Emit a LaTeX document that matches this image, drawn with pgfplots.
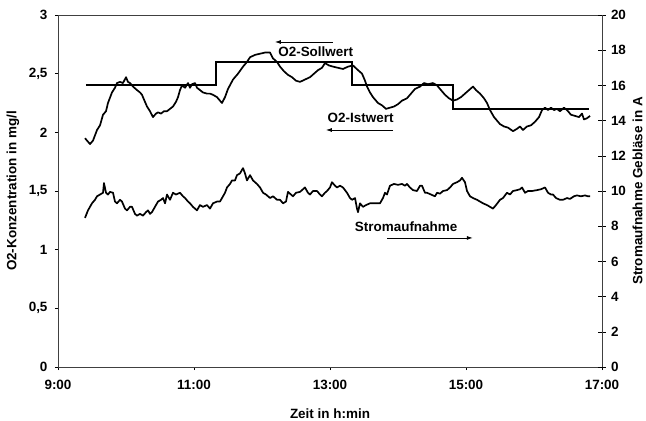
\documentclass[border=0pt]{standalone}
\usepackage{fontspec}
\setmainfont{Liberation Sans}
\usepackage{pgfplots}
\pgfplotsset{compat=1.18}
\usetikzlibrary{arrows.meta}
\newcommand{\fs}{\fontsize{13.5}{16}\selectfont\bfseries}
\begin{document}
\begin{tikzpicture}
\begin{axis}[
  name=ax,
  at={(0,0)}, anchor=south west,
  scale only axis, width=544bp, height=352bp,
  xmin=9, xmax=17, ymin=0, ymax=3,
  xtick={9,11,13,15,17},
  xticklabels={9:00,11:00,13:00,15:00,17:00},
  ytick={0,0.5,1,1.5,2,2.5,3},
  yticklabels={0,{0,5},1,{1,5},2,{2,5},3},
  xtick pos=lower, ytick pos=left,
  tick align=outside,
  major tick length=3bp,
  tick style={black, line width=0.6pt},
  axis line style={black!75, line width=0.8pt},
  ticklabel style={font=\fs},
  xticklabel style={yshift=-7bp},
  yticklabel style={xshift=-4bp},
  xlabel={Zeit in h:min},
  label style={font=\fs},
  xlabel style={at={(axis description cs:0.5,0)}, anchor=center, yshift=-47bp},
  clip=false,
]
% Sollwert
\addplot[black, line width=1.9pt, line join=miter] coordinates {
(9.41,2.40) (11.32,2.40) (11.32,2.60) (13.32,2.60) (13.32,2.40) (14.81,2.40) (14.81,2.20) (16.81,2.20)
};
% Istwert
\addplot[black, line width=1.7pt, line join=round] coordinates {
(9.397,1.95) (9.441,1.92) (9.471,1.90) (9.515,1.93) (9.574,2.02) (9.618,2.06) (9.662,2.15) (9.706,2.18)
(9.735,2.25) (9.794,2.34) (9.838,2.38) (9.868,2.42) (9.912,2.43) (9.956,2.42) (10.000,2.47) (10.029,2.43)
(10.059,2.42) (10.103,2.39) (10.162,2.36) (10.206,2.34) (10.235,2.32) (10.279,2.26) (10.309,2.22) (10.353,2.18)
(10.397,2.13) (10.441,2.16) (10.471,2.17) (10.515,2.16) (10.559,2.18) (10.603,2.18) (10.647,2.20) (10.691,2.22)
(10.735,2.26) (10.765,2.30) (10.794,2.36) (10.824,2.40) (10.868,2.38) (10.912,2.42) (10.941,2.38) (10.971,2.41)
(11.015,2.42) (11.044,2.38) (11.088,2.36) (11.132,2.34) (11.191,2.33) (11.235,2.33) (11.279,2.32) (11.338,2.30)
(11.382,2.27) (11.412,2.25) (11.456,2.30) (11.500,2.37) (11.574,2.45) (11.647,2.50) (11.721,2.56) (11.779,2.60)
(11.824,2.64) (11.897,2.66) (11.971,2.67) (12.044,2.68) (12.118,2.68) (12.162,2.63) (12.221,2.60) (12.265,2.56)
(12.324,2.52) (12.382,2.49) (12.441,2.47) (12.500,2.44) (12.559,2.43) (12.632,2.45) (12.706,2.47) (12.765,2.50)
(12.824,2.53) (12.882,2.55) (12.926,2.59) (12.985,2.57) (13.044,2.56) (13.118,2.55) (13.191,2.54) (13.265,2.56)
(13.338,2.57) (13.412,2.53) (13.471,2.50) (13.515,2.44) (13.544,2.39) (13.588,2.34) (13.632,2.30) (13.706,2.25)
(13.765,2.23) (13.824,2.20) (13.882,2.21) (13.941,2.22) (14.000,2.24) (14.059,2.27) (14.132,2.29) (14.191,2.33)
(14.250,2.37) (14.324,2.39) (14.382,2.42) (14.441,2.41) (14.515,2.42) (14.574,2.40) (14.632,2.36) (14.691,2.32)
(14.750,2.29) (14.809,2.27) (14.868,2.28) (14.926,2.30) (14.985,2.33) (15.044,2.36) (15.103,2.39) (15.147,2.36)
(15.206,2.33) (15.265,2.29) (15.309,2.25) (15.353,2.19) (15.412,2.13) (15.456,2.10) (15.500,2.07) (15.559,2.05)
(15.618,2.04) (15.691,2.01) (15.750,2.03) (15.794,2.05) (15.838,2.02) (15.897,2.05) (15.956,2.06) (16.015,2.09)
(16.074,2.13) (16.118,2.19) (16.162,2.21) (16.206,2.19) (16.250,2.21) (16.294,2.19) (16.338,2.20) (16.382,2.18)
(16.441,2.21) (16.485,2.19) (16.544,2.15) (16.603,2.14) (16.662,2.13) (16.706,2.16) (16.735,2.11) (16.779,2.12)
(16.824,2.14)
};
% annotations
\draw[black, line width=0.8pt, -{Latex[length=6bp,width=4bp]}] (axis cs:13.04,2.77) -- (axis cs:12.19,2.77);
\node[font=\fs] at (axis cs:12.79,2.685) {O2-Sollwert};
\node[font=\fs] at (axis cs:13.45,2.12) {O2-Istwert};
\draw[black, line width=0.8pt, -{Latex[length=6bp,width=4bp]}] (axis cs:13.93,2.02) -- (axis cs:12.94,2.02);
\node[font=\fs] at (axis cs:14.12,1.193) {Stromaufnahme};
\draw[black, line width=0.8pt, -{Latex[length=6bp,width=4bp]}] (axis cs:13.84,1.10) -- (axis cs:15.10,1.10);
% axis titles
\node[font=\fs, rotate=90, anchor=center] at (axis description cs:-0.0827,0.5) {O2-Konzentration in mg/l};
\node[font=\fs, rotate=90, anchor=center] at (axis description cs:1.0655,0.5) {Stromaufnahme Gebläse in A};
\end{axis}
\begin{axis}[
  at={(0,0)}, anchor=south west,
  scale only axis, width=544bp, height=352bp,
  xmin=9, xmax=17, ymin=0, ymax=20,
  axis x line=none, axis y line*=right,
  ytick={0,2,...,20},
  tick align=center,
  major tick length=7bp,
  tick style={black, line width=0.6pt},
  axis line style={black!75, line width=0.8pt, -},
  ticklabel style={font=\fs},
  /pgf/number format/assume math mode=true,
  yticklabel style={xshift=2bp},
]
\addplot[black, line width=1.7pt, line join=round] coordinates {
(9.397,8.47) (9.441,8.9) (9.500,9.3) (9.544,9.5) (9.574,9.7) (9.618,9.8) (9.662,9.9) (9.676,10.45)
(9.706,9.9) (9.735,9.8) (9.765,9.95) (9.809,9.9) (9.838,9.4) (9.868,9.3) (9.912,9.5) (9.941,9.4)
(9.985,9.0) (10.015,8.9) (10.059,9.1) (10.088,9.1) (10.132,8.7) (10.162,8.6) (10.206,8.7) (10.250,8.6)
(10.294,8.8) (10.324,8.9) (10.353,8.7) (10.382,8.8) (10.426,9.1) (10.471,9.4) (10.515,9.5) (10.544,9.6)
(10.574,9.3) (10.603,9.8) (10.647,9.5) (10.691,9.9) (10.735,9.8) (10.794,9.9) (10.838,9.7) (10.868,9.6)
(10.912,9.4) (10.941,9.3) (10.985,9.1) (11.044,8.9) (11.088,9.2) (11.132,9.1) (11.191,9.2) (11.235,9.0)
(11.279,9.3) (11.338,9.4) (11.382,9.4) (11.412,9.6) (11.456,9.9) (11.485,10.2) (11.529,10.4) (11.559,10.6)
(11.603,10.6) (11.632,10.9) (11.676,11.0) (11.721,11.3) (11.750,11.0) (11.779,10.6) (11.824,10.9) (11.868,10.6)
(11.926,10.4) (11.971,10.2) (12.015,9.9) (12.059,9.8) (12.118,9.6) (12.162,9.7) (12.221,9.5) (12.265,9.5)
(12.309,9.3) (12.353,9.4) (12.382,9.95) (12.426,9.8) (12.456,9.7) (12.500,9.9) (12.559,9.95) (12.603,10.1)
(12.632,10.2) (12.676,9.9) (12.706,9.8) (12.750,10.0) (12.809,10.0) (12.853,9.8) (12.882,9.7) (12.926,9.9)
(12.956,10.0) (13.000,10.2) (13.029,10.5) (13.074,10.3) (13.103,10.2) (13.147,10.3) (13.191,10.2) (13.250,9.9)
(13.294,9.6) (13.324,9.5) (13.368,9.6) (13.397,9.0) (13.412,8.8) (13.441,9.3) (13.485,9.1) (13.529,9.2)
(13.588,9.3) (13.662,9.3) (13.735,9.3) (13.779,9.6) (13.809,9.9) (13.838,9.8) (13.882,10.3) (13.941,10.4)
(14.000,10.35) (14.059,10.4) (14.103,10.3) (14.132,10.4) (14.176,10.2) (14.221,10.05) (14.279,10.0) (14.324,10.3)
(14.353,10.3) (14.397,9.9) (14.426,9.9) (14.485,9.8) (14.544,9.7) (14.574,9.9) (14.618,9.85) (14.662,10.0)
(14.721,10.05) (14.765,10.2) (14.809,10.4) (14.868,10.5) (14.912,10.6) (14.941,10.75) (14.985,10.5) (15.015,10.0)
(15.059,9.7) (15.103,9.6) (15.162,9.5) (15.206,9.4) (15.250,9.3) (15.309,9.2) (15.353,9.1) (15.397,9.0)
(15.441,9.2) (15.500,9.5) (15.544,9.6) (15.603,9.9) (15.647,9.8) (15.691,10.0) (15.750,10.05) (15.794,10.1)
(15.824,10.2) (15.868,9.9) (15.912,10.0) (15.971,10.0) (16.044,10.05) (16.103,10.1) (16.162,10.2) (16.206,9.9)
(16.250,9.8) (16.279,9.8) (16.324,9.6) (16.382,9.5) (16.426,9.5) (16.485,9.6) (16.529,9.55) (16.588,9.7)
(16.632,9.75) (16.691,9.7) (16.750,9.75) (16.794,9.7) (16.824,9.7)
};
\end{axis}
\pgfresetboundingbox
\path (-58bp,-54bp) rectangle (588bp,367bp);
\end{tikzpicture}
\end{document}
